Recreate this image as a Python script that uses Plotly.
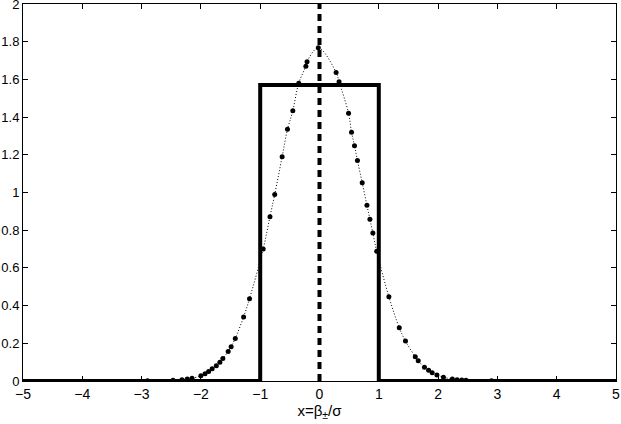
import plotly.graph_objects as go


# dotted curve sample points
curve_x = [
    -2.9, -2.47, -2.32, -2.23, -2.15, -2.0, -1.93, -1.87, -1.81, -1.74,
    -1.68, -1.63, -1.54, -1.49, -1.42, -1.28, -1.18, -0.95, -0.835,
    -0.755, -0.63, -0.54, -0.45, -0.35, -0.23, -0.21, -0.02, 0.28, 0.33,
    0.49, 0.54, 0.59, 0.64, 0.72, 0.80, 0.85, 0.90, 0.965, 1.17, 1.345,
    1.45, 1.615, 1.665, 1.77, 1.84, 1.90, 1.98, 2.09, 2.24, 2.32, 2.40,
    2.47, 2.9
]
curve_y = [
    0.001, 0.004, 0.007, 0.011, 0.014, 0.028, 0.039, 0.051, 0.065, 0.081,
    0.099, 0.120, 0.156, 0.182, 0.226, 0.340, 0.437, 0.700, 0.872,
    0.990, 1.190, 1.335, 1.434, 1.580, 1.670, 1.694, 1.768, 1.637, 1.588,
    1.420, 1.320, 1.248, 1.170, 1.052, 0.932, 0.858, 0.785, 0.688, 0.447,
    0.283, 0.212, 0.129, 0.108, 0.073, 0.057, 0.044, 0.032, 0.020, 0.011,
    0.007, 0.005, 0.004, 0.001
]

# box function
box_x = [-5, -1, -1, 1, 1, 5]
box_y = [0, 0, 1.57, 1.57, 0, 0]

# vertical line at zero
mid_x = [0, 0]
mid_y = [0, 2]

x_ticks = [-5, -4, -3, -2, -1, 0, 1, 2, 3, 4, 5]
y_ticks = [0, 0.2, 0.4, 0.6, 0.8, 1, 1.2, 1.4, 1.6, 1.8, 2]
y_labels = ["0", "0.2", "0.4", "0.6", "0.8", "1", "1.2", "1.4", "1.6", "1.8", "2"]


fig = go.Figure()

fig.add_trace(
    go.Scatter(
        x=curve_x,
        y=curve_y,
        mode="lines+markers",
        line=dict(color="black", width=1, dash="1px,2px", shape="spline"),
        marker=dict(color="black", size=5),
        showlegend=False
    )
)

fig.add_trace(
    go.Scatter(
        x=box_x,
        y=box_y,
        mode="lines",
        line=dict(color="black", width=4),
        showlegend=False
    )
)

fig.add_trace(
    go.Scatter(
        x=mid_x,
        y=mid_y,
        mode="lines",
        line=dict(color="black", width=4, dash="7px,5px"),
        showlegend=False
    )
)

fig.update_layout(
    width=621,
    height=424,
    margin=dict(l=23, r=5, t=4, b=43),
    plot_bgcolor="white",
    paper_bgcolor="white",
    font=dict(family="Liberation Sans, Arial, sans-serif", size=13, color="black"),
    xaxis=dict(
        range=[-5, 5],
        tickvals=x_ticks,
        ticks="inside",
        ticklen=5,
        tickcolor="black",
        showline=True,
        linecolor="black",
        linewidth=1,
        mirror="ticks",
        showgrid=False,
        zeroline=False,
        automargin=False,
        ticklabeloverflow="allow",
        tickfont=dict(size=14),
        title=dict(text="x=β<sub>±</sub>/σ", standoff=2, font=dict(size=15))
    ),
    yaxis=dict(
        range=[0, 2],
        tickvals=y_ticks,
        ticktext=y_labels,
        ticks="inside",
        ticklen=5,
        tickcolor="black",
        showline=True,
        linecolor="black",
        linewidth=1,
        mirror="ticks",
        showgrid=False,
        zeroline=False,
        automargin=False,
        ticklabeloverflow="allow",
        ticklabelstandoff=0
    )
)

fig.write_html(
    "out.html",
    config={"displayModeBar": False},
    post_script="document.body.style.margin='0';"
)
